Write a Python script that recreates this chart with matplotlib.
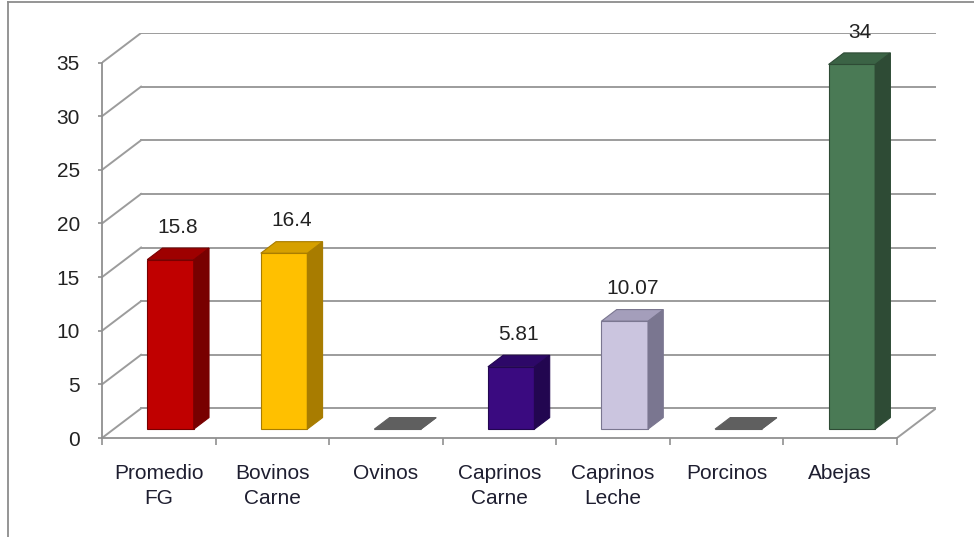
import matplotlib.pyplot as plt
from matplotlib.patches import Polygon
from matplotlib.lines import Line2D

# data
categories = ["Promedio\nFG", "Bovinos\nCarne", "Ovinos", "Caprinos\nCarne",
              "Caprinos\nLeche", "Porcinos", "Abejas"]
values = [15.8, 16.4, 0, 5.81, 10.07, 0, 34]
value_labels = ["15.8", "16.4", "", "5.81", "10.07", "", "34"]
y_ticks = [0, 5, 10, 15, 20, 25, 30, 35]

front_colors = ["#c00000", "#ffc000", "#5f5f5f", "#3a0a80", "#cbc5df", "#5f5f5f", "#4a7a55"]
side_colors = ["#780000", "#a87c00", "#5f5f5f", "#220650", "#7a7690", "#5f5f5f", "#2e4b35"]
top_colors = ["#9e0000", "#d6a000", "#5f5f5f", "#2d0868", "#a49ebb", "#5f5f5f", "#3b6345"]

plt.rcParams['font.family'] = ['Liberation Sans', 'DejaVu Sans']

# oblique "3D" depth of the floor, in data units
DX = 0.344
DY = 2.76
F0, F1 = 0.30, 0.69   # bar front / back as fraction of the depth
BAR_W = 0.41
GRID = "#9c9c9c"
TXT = "#222222"

n = len(values)
fig = plt.figure(figsize=(9.74, 5.37), dpi=100)
ax = fig.add_axes([102 / 974, 99 / 537, 834 / 974, 405 / 537])
ax.set_xlim(0, n + DX)
ax.set_ylim(0, y_ticks[-1] + DY)

# back wall and side wall gridlines
for v in y_ticks:
    ax.plot([DX, n + DX], [v + DY, v + DY], color=GRID, lw=1.4, zorder=1)
    ax.plot([0, DX], [v, v + DY], color=GRID, lw=1.4, zorder=1)
# floor right edge
ax.plot([n, n + DX], [0, DY], color=GRID, lw=1.4, zorder=1)

# bars
for i, v in enumerate(values):
    x0 = i + 0.5 - BAR_W / 2
    x1 = x0 + BAR_W
    ox0, oy0 = F0 * DX, F0 * DY
    ox1, oy1 = F1 * DX, F1 * DY
    edge = side_colors[i]
    front = Polygon([(x0 + ox0, oy0), (x1 + ox0, oy0), (x1 + ox0, v + oy0), (x0 + ox0, v + oy0)],
                    closed=True, facecolor=front_colors[i], edgecolor=edge, lw=0.8, zorder=3)
    side = Polygon([(x1 + ox0, oy0), (x1 + ox1, oy1), (x1 + ox1, v + oy1), (x1 + ox0, v + oy0)],
                   closed=True, facecolor=side_colors[i], edgecolor=edge, lw=0.8, zorder=3)
    top = Polygon([(x0 + ox0, v + oy0), (x1 + ox0, v + oy0), (x1 + ox1, v + oy1), (x0 + ox1, v + oy1)],
                  closed=True, facecolor=top_colors[i], edgecolor=edge, lw=0.8, zorder=4)
    for p in (front, side, top):
        ax.add_patch(p)
    if value_labels[i]:
        ax.annotate(value_labels[i], (i + 0.5 + (ox0 + ox1) / 2, v + oy1),
                    xytext=(0, 15), textcoords="offset points", ha="center", va="center",
                    fontsize=15, color=TXT, annotation_clip=False)

# front axes
for s in ["top", "right"]:
    ax.spines[s].set_visible(False)
ax.spines["left"].set_bounds(0, y_ticks[-1])
ax.spines["bottom"].set_bounds(0, n)
for s in ["left", "bottom"]:
    ax.spines[s].set_color("#909090")
    ax.spines[s].set_linewidth(1.3)
ax.set_yticks(y_ticks)
ax.set_yticklabels([str(t) for t in y_ticks], fontsize=15, color=TXT)
ax.tick_params(axis="y", length=3, width=1.2, color="#909090", pad=13)
ax.set_xticks(range(n + 1))
ax.set_xticklabels([])
ax.tick_params(axis="x", which="major", length=5, width=1.2, color="#909090")
ax.set_xticks([i + 0.5 for i in range(n)], minor=True)
ax.set_xticklabels(categories, minor=True, fontsize=15, color="#1e1e30", linespacing=1.4)
ax.tick_params(axis="x", which="minor", length=0, pad=19)
ax.patch.set_alpha(0)

# chart frame (left and top edges visible in the reference)
fig.add_artist(Line2D([8 / 974, 8 / 974], [0, 535 / 537], color="#8c8c8c", lw=1.3))
fig.add_artist(Line2D([8 / 974, 1], [535 / 537, 535 / 537], color="#8c8c8c", lw=1.3))

fig.savefig("out.png", dpi=100)
